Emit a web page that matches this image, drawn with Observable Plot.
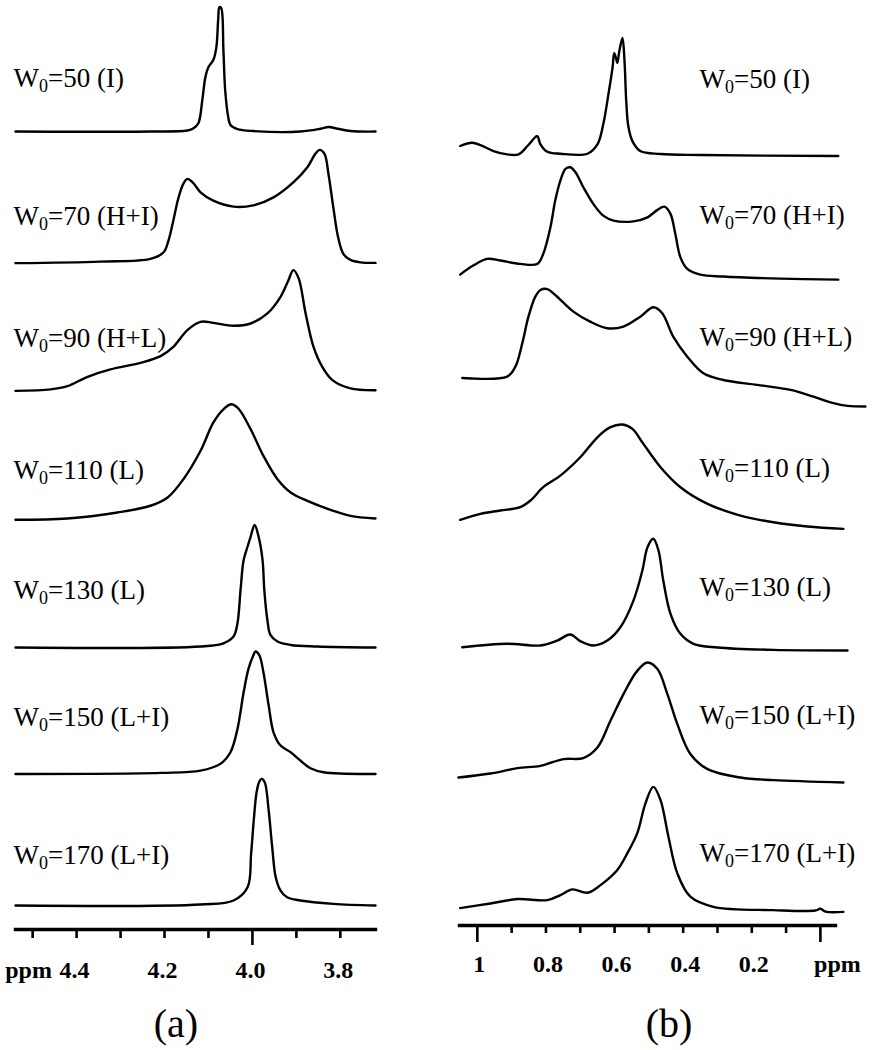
<!DOCTYPE html>
<html><head><meta charset="utf-8">
<script src="https://cdn.jsdelivr.net/npm/d3@7"></script>
<script src="https://cdn.jsdelivr.net/npm/@observablehq/plot@0.6"></script>
<style>
body{margin:0;background:#fff;}
#fig{position:relative;width:879px;height:1050px;font-family:"Liberation Serif","Times New Roman",serif;background:#fff;overflow:hidden;}
#pa{position:absolute;left:0;top:0;}
#pb{position:absolute;left:440px;top:0;}
.cap{position:absolute;top:1004px;width:100px;text-align:center;font-size:40px;line-height:1;color:#000;}
</style></head><body>
<div id="fig"><div id="pa"></div><div id="pb"></div>
<div class="cap" style="left:126px">(a)</div>
<div class="cap" style="left:619px">(b)</div></div>
<script>
// ---- data ----
const w0 = [50, 70, 90, 110, 130, 150, 170];
const phases = ["I", "H+I", "H+L", "L", "L", "L+I", "L+I"];

// panel (a): [ppm, intensity]
const a50 = [[4.539,0],[4.232,0],[4.148,0.008],[4.134,0.025],[4.123,0.064],[4.114,0.244],[4.107,0.422],[4.100,0.50],[4.089,0.554],[4.082,0.655],[4.078,0.864],[4.075,0.965],[4.071,0.957],[4.066,0.632],[4.062,0.322],[4.055,0.112],[4.050,0.05],[4.034,0.019],[3.998,0.004],[3.891,0],[3.845,0.022],[3.827,0.035],[3.806,0.022],[3.777,0.004],[3.720,0]];
const a70 = [[4.539,0],[4.346,0.012],[4.232,0.033],[4.202,0.084],[4.191,0.174],[4.180,0.329],[4.168,0.51],[4.157,0.616],[4.148,0.653],[4.136,0.626],[4.118,0.549],[4.089,0.484],[4.043,0.438],[3.998,0.448],[3.952,0.51],[3.907,0.626],[3.875,0.743],[3.857,0.847],[3.847,0.878],[3.836,0.847],[3.827,0.691],[3.816,0.433],[3.805,0.2],[3.793,0.071],[3.777,0.025],[3.754,0.006],[3.720,0.002]];
const a90 = [[4.539,0],[4.459,0.011],[4.421,0.036],[4.375,0.109],[4.323,0.166],[4.255,0.217],[4.209,0.269],[4.180,0.341],[4.148,0.471],[4.118,0.535],[4.089,0.527],[4.043,0.504],[4.004,0.522],[3.966,0.6],[3.936,0.729],[3.918,0.858],[3.907,0.936],[3.895,0.874],[3.879,0.6],[3.861,0.341],[3.841,0.186],[3.818,0.083],[3.777,0.019],[3.720,0.005]];
const a110 = [[4.539,0],[4.421,0.01],[4.307,0.057],[4.232,0.109],[4.193,0.173],[4.157,0.315],[4.118,0.535],[4.089,0.754],[4.066,0.857],[4.048,0.896],[4.032,0.863],[4.004,0.702],[3.975,0.496],[3.943,0.315],[3.913,0.212],[3.875,0.147],[3.816,0.07],[3.777,0.031],[3.720,0.01]];
const a130 = [[4.539,0],[4.118,0.008],[4.066,0.033],[4.043,0.085],[4.034,0.188],[4.027,0.447],[4.020,0.679],[4.011,0.783],[4.004,0.86],[3.995,0.95],[3.986,0.86],[3.977,0.679],[3.973,0.447],[3.966,0.214],[3.959,0.098],[3.943,0.047],[3.913,0.02],[3.852,0.008],[3.720,0]];
const a150 = [[4.539,0],[4.209,0.008],[4.118,0.026],[4.073,0.078],[4.050,0.168],[4.034,0.349],[4.020,0.633],[4.009,0.814],[3.998,0.918],[3.993,0.949],[3.984,0.918],[3.975,0.788],[3.963,0.53],[3.952,0.323],[3.936,0.22],[3.913,0.168],[3.891,0.104],[3.868,0.044],[3.838,0.013],[3.720,0]];
const a170 = [[4.539,0],[4.118,0.008],[4.043,0.039],[4.011,0.142],[4.003,0.401],[3.997,0.659],[3.991,0.866],[3.985,0.956],[3.979,0.982],[3.972,0.956],[3.963,0.736],[3.955,0.452],[3.947,0.219],[3.936,0.116],[3.921,0.064],[3.891,0.039],[3.816,0.013],[3.720,0]];

// panel (b): [ppm, intensity]
const b50 = [[1.050,0.078],[1.015,0.103],[0.991,0.085],[0.953,0.039],[0.913,0.013],[0.880,0.013],[0.854,0.078],[0.831,0.147],[0.825,0.155],[0.816,0.091],[0.796,0.033],[0.758,0.018],[0.679,0.018],[0.650,0.091],[0.633,0.246],[0.618,0.478],[0.606,0.684],[0.601,0.798],[0.595,0.752],[0.592,0.721],[0.586,0.814],[0.577,0.915],[0.571,0.736],[0.566,0.426],[0.560,0.233],[0.548,0.116],[0.525,0.039],[0.466,0.016],[0.350,0.008],[-0.052,0]];
const b70 = [[1.050,0.031],[1.012,0.101],[0.971,0.153],[0.933,0.14],[0.875,0.114],[0.825,0.114],[0.808,0.191],[0.787,0.398],[0.773,0.605],[0.758,0.76],[0.743,0.85],[0.729,0.863],[0.714,0.824],[0.691,0.708],[0.662,0.579],[0.633,0.488],[0.603,0.45],[0.545,0.444],[0.504,0.475],[0.475,0.533],[0.455,0.558],[0.437,0.502],[0.423,0.347],[0.408,0.165],[0.388,0.075],[0.350,0.031],[0.283,0.016],[0.117,0],[-0.052,-0.008]];
const b90 = [[1.044,0],[0.913,0.01],[0.889,0.088],[0.869,0.269],[0.851,0.475],[0.831,0.63],[0.816,0.682],[0.796,0.688],[0.773,0.643],[0.720,0.514],[0.671,0.436],[0.621,0.385],[0.574,0.398],[0.525,0.475],[0.487,0.548],[0.461,0.502],[0.429,0.32],[0.388,0.165],[0.341,0.036],[0.283,-0.016],[0.184,-0.054],[0.087,-0.093],[0.020,-0.145],[-0.038,-0.196],[-0.079,-0.217],[-0.131,-0.222]];
const b110 = [[1.050,-0.01],[0.991,0.036],[0.933,0.062],[0.875,0.088],[0.845,0.14],[0.808,0.243],[0.758,0.333],[0.700,0.475],[0.650,0.63],[0.612,0.708],[0.577,0.729],[0.548,0.695],[0.516,0.579],[0.466,0.398],[0.408,0.243],[0.329,0.114],[0.233,0.023],[0.137,-0.029],[0.038,-0.062],[-0.067,-0.08]];
const b130 = [[1.044,0.002],[0.913,0.029],[0.816,0.016],[0.767,0.054],[0.729,0.101],[0.700,0.049],[0.662,0.016],[0.621,0.054],[0.583,0.157],[0.545,0.364],[0.519,0.597],[0.504,0.778],[0.487,0.843],[0.472,0.752],[0.458,0.519],[0.437,0.261],[0.408,0.106],[0.370,0.029],[0.300,0],[0.137,-0.018],[-0.079,-0.023]];
const b150 = [[1.055,0.002],[0.962,0.033],[0.883,0.075],[0.816,0.093],[0.749,0.145],[0.691,0.153],[0.650,0.235],[0.612,0.442],[0.574,0.649],[0.534,0.829],[0.504,0.894],[0.475,0.843],[0.446,0.649],[0.417,0.416],[0.379,0.184],[0.329,0.067],[0.233,0.002],[0.137,-0.018],[-0.067,-0.036]];
const b170 = [[1.050,0],[0.962,0.036],[0.883,0.07],[0.796,0.062],[0.758,0.101],[0.723,0.145],[0.679,0.119],[0.641,0.178],[0.592,0.295],[0.563,0.424],[0.534,0.579],[0.510,0.812],[0.487,0.94],[0.466,0.837],[0.443,0.553],[0.417,0.269],[0.379,0.088],[0.312,0.01],[0.137,-0.016],[0.015,-0.019],[0,-0.005],[-0.015,-0.027],[-0.067,-0.029]];

// stacking offsets (baseline of each trace)
const offsetsA = [6.0, 4.98, 3.99, 2.99, 2.0, 1.02, 0];
const offsetsB = [5.81, 4.86, 4.09, 3.0, 2.0, 0.99, -0.02];

// axis ticks and labels
const minorTicksA = [4.5, 4.4, 4.3, 4.2, 4.1, 3.9, 3.8];
const longTicksA = [4.0];
const labelTicksA = [4.4, 4.2, 4.0, 3.8];
const labelTextA = ["4.4", "4.2", "4.0", "3.8"];
const minorTicksB = [0.9, 0.8, 0.7, 0.6, 0.5, 0.4, 0.3, 0.2, 0.1];
const longTicksB = [1, 0];
const labelTicksB = [1, 0.8, 0.6, 0.4, 0.2];
const labelTextB = ["1", "0.8", "0.6", "0.4", "0.2"];

// ---- layout (styling) ----
const labelShiftA = [-45, -38, -44, -41, -49, -48, -42];
const labelShiftB = [-68, -55, -32, -42, -52, -54, -46];

function panel(o) {
  const rows = [];
  o.spectra.forEach((s, i) => s.forEach(([x, v]) => rows.push({k: w0[i], x, y: o.offsets[i] + v})));
  const labs = w0.map((w, i) => ({text: `W0=${w} (${phases[i]})`, y: o.offsets[i]}));
  const height = 990;
  const lm = new Map(o.labelTicks.map((t, i) => [t, o.labelText[i]]));
  const svg = Plot.plot({
    width: o.width, height, marginTop: 0, marginBottom: height - o.frameBottom,
    marginLeft: o.marginLeft, marginRight: o.marginRight,
    x: {domain: o.xDomain, label: null},
    y: {domain: o.yDomain, axis: null},
    style: {background: "#fff", fontFamily: "Liberation Serif, Times New Roman, serif", color: "#000", overflow: "visible"},
    marks: [
      Plot.line(rows, {x: "x", y: "y", z: "k", stroke: "#000", strokeWidth: 2.4, curve: "catmull-rom"}),
      Plot.frame({anchor: "bottom", stroke: "#000", strokeWidth: 3.4}),
      Plot.axisX({ticks: o.minorTicks, tickSize: o.minorSize, tickFormat: () => "", label: null, stroke: "#000", strokeWidth: 2.6}),
      Plot.axisX({ticks: o.longTicks, tickSize: o.longSize, tickFormat: () => "", label: null, stroke: "#000", strokeWidth: 2.6}),
      Plot.axisX({ticks: o.labelTicks, tickSize: 0, tickPadding: o.labelPad, tickFormat: d => lm.get(d), label: null, fontSize: 24, fontWeight: "bold", dx: o.labelDx}),
      Plot.axisX({ticks: [o.ppmTick], tickSize: 0, tickPadding: o.labelPad, tickFormat: () => "ppm", label: null, fontSize: 24, fontWeight: "bold", dx: o.ppmDx}),
      ...labs.map((d, i) => Plot.text([d], {frameAnchor: "left", y: "y", text: "text", textAnchor: "start", lineAnchor: "bottom", fontSize: 27, fill: "#000", dx: o.textDx, dy: o.labelShift[i]}))
    ]
  });
  const ns = "http://www.w3.org/2000/svg";
  svg.querySelectorAll("text").forEach(t => {
    const s = t.textContent;
    if (!s.startsWith("W0=")) return;
    while (t.firstChild) t.removeChild(t.firstChild);
    const a = document.createElementNS(ns, "tspan"); a.textContent = "W";
    const b = document.createElementNS(ns, "tspan"); b.textContent = "0"; b.setAttribute("font-size", "18"); b.setAttribute("dy", "5");
    const c = document.createElementNS(ns, "tspan"); c.textContent = s.slice(2); c.setAttribute("dy", "-5");
    t.append(a, b, c);
  });
  return svg;
}

document.getElementById("pa").append(panel({
  spectra: [a50, a70, a90, a110, a130, a150, a170], offsets: offsetsA,
  xDomain: [4.539, 3.72], yDomain: [-0.186, 7.016], width: 440, marginLeft: 15, marginRight: 65, frameBottom: 929,
  minorTicks: minorTicksA, longTicks: longTicksA, minorSize: 9, longSize: 16,
  labelTicks: labelTicksA, labelText: labelTextA, labelPad: 31, labelDx: -2, ppmTick: 4.4, ppmDx: -48,
  textDx: -2, labelShift: labelShiftA
}));
document.getElementById("pb").append(panel({
  spectra: [b50, b70, b90, b110, b130, b150, b170], offsets: offsetsB,
  xDomain: [1.052, -0.044], yDomain: [-0.155, 7.016], width: 439, marginLeft: 19, marginRight: 44, frameBottom: 925,
  minorTicks: minorTicksB, longTicks: longTicksB, minorSize: 8, longSize: 17,
  labelTicks: labelTicksB, labelText: labelTextB, labelPad: 29, labelDx: 2, ppmTick: 0, ppmDx: 17,
  textDx: 240, labelShift: labelShiftB
}));
</script>
</body></html>
